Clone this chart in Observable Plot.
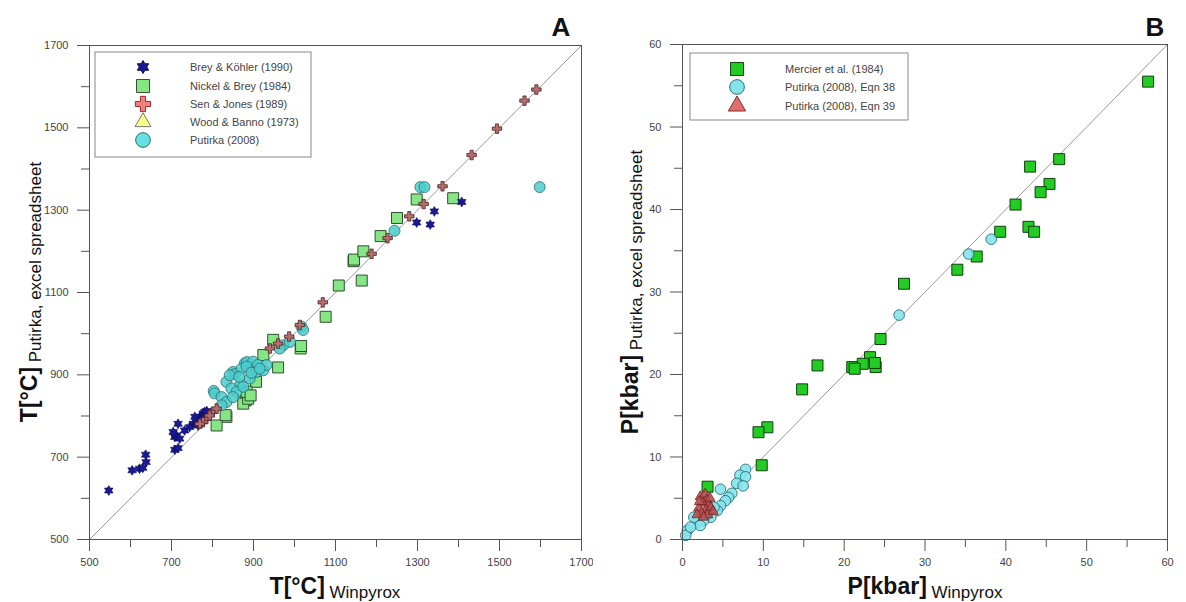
<!DOCTYPE html>
<html>
<head>
<meta charset="utf-8">
<script src="https://cdn.jsdelivr.net/npm/d3@7"></script>
<script src="https://cdn.jsdelivr.net/npm/@observablehq/plot@0.6"></script>
<style>
  html, body { margin: 0; padding: 0; background: #fff; }
  #wrap { position: relative; width: 1186px; height: 602px; overflow: hidden; }
  #wrap > svg { position: absolute; top: 0; }
</style>
</head>
<body>
<div id="wrap"></div>
<script>
// ---------- Panel A data: T[°C] Winpyrox (x) vs Putirka spreadsheet (y) ----------
const breyKohler = [
  [547,619],[604,668],[622,672],[630,674],[638,688],[637,706],[708,718],[716,722],
  [708,749],[712,753],[720,745],[732,765],[716,781],[704,761],[753,781],[761,789],
  [769,798],[777,806],[757,798],[781,810],[786,812],[765,777],[773,790],[744,773],
  [1408,1320],[1341,1297],[1298,1270],[1331,1265]
];
const nickelBrey = [
  [1076,1041],[1108,1117],[1164,1129],[1144,1176],[1145,1180],[1168,1200],[1210,1237],
  [1250,1281],[1298,1326],[1387,1329],[1015,964],[1016,970],[960,918],[924,948],[948,985],
  [906,883],[881,838],[875,830],[887,842],[834,798],[810,777],[883,859],[832,802],[893,850]
];
const senJones = [
  [1590,1593],[1561,1566],[1494,1498],[1432,1434],[1361,1358],[1315,1315],[1280,1285],
  [1227,1232],[1188,1194],[1069,1076],[1013,1021],[987,993],[960,976],[940,964],
  [801,810],[785,793],[777,785],[793,801],[810,818],[769,781]
];
const woodBanno = [];
const putirkaA = [
  [1307,1356],[1317,1356],[1598,1356],[1244,1250],
  [1017,1017],[1021,1009],[973,972],[964,964],[989,980],
  [803,861],[805,855],[834,883],[850,907],[855,902],[879,928],[884,931],[899,932],[911,924],
  [907,907],[891,891],[867,875],[846,867],[822,846],[859,859],[875,871],[924,911],[932,924],
  [834,834],[822,826],[842,899],[871,915],[883,920],[850,846],[865,895],[895,905],[915,915]
];

// ---------- Panel B data: P[kbar] Winpyrox (x) vs Putirka spreadsheet (y) ----------
const mercier = [
  [57.6,55.5],[46.6,46.1],[43.0,45.2],[45.4,43.1],[44.3,42.1],[41.2,40.6],[39.3,37.3],
  [42.8,37.9],[43.5,37.3],[36.4,34.3],[34.0,32.7],[27.4,31.0],[24.5,24.3],[23.2,22.1],
  [22.3,21.3],[23.9,20.9],[23.8,21.4],[21.0,20.9],[21.3,20.7],[16.7,21.1],[14.8,18.2],
  [10.5,13.6],[9.4,13.0],[9.8,9.0],[3.1,6.4]
];
const putirkaEqn38 = [
  [38.2,36.4],[35.4,34.6],[26.8,27.2],
  [7.8,8.5],[7.1,7.8],[7.8,7.6],[6.7,6.8],[7.5,6.5],[4.7,6.1],[6.1,5.6],[5.7,5.1],
  [5.3,4.7],[4.7,4.1],[4.3,3.5],[3.5,2.7],[2.6,2.3],[1.8,2.1],[1.4,2.7],[2.2,1.7],
  [0.6,1.1],[0.4,0.5],[1.0,1.5],[3.1,3.1],[3.9,3.9]
];
const putirkaEqn39 = [
  [2.2,5.2],[2.8,5.5],[3.0,4.8],[2.5,4.4],[3.3,4.2],[2.0,3.8],[2.9,3.6],[3.5,3.9],
  [2.4,3.2],[3.1,3.0],[1.8,3.0],[2.6,2.7],[3.8,3.4],[2.1,4.6],[3.4,5.0]
];

// ---------- Axis ticks ----------
const ticksA = [500,700,900,1100,1300,1500,1700];
const minorA = [600,800,1000,1200,1400,1600];
const ticksB = [0,10,20,30,40,50,60];
const minorB = [5,15,25,35,45,55];

const legendA = ["Brey & Köhler (1990)","Nickel & Brey (1984)","Sen & Jones (1989)","Wood & Banno (1973)","Putirka (2008)"];
const legendB = ["Mercier et al. (1984)","Putirka (2008), Eqn 38","Putirka (2008), Eqn 39"];

// six-pointed star symbol
const hexagram = {
  draw(ctx, size) {
    const R = Math.sqrt(size) * 0.62, r = R / Math.sqrt(3);
    for (let i = 0; i < 12; i++) {
      const a = i * Math.PI / 6 - Math.PI / 2, rad = i % 2 === 0 ? R : r;
      const px = rad * Math.cos(a), py = rad * Math.sin(a);
      if (i === 0) ctx.moveTo(px, py); else ctx.lineTo(px, py);
    }
    ctx.closePath();
  }
};

const FONT = "'Liberation Sans', Arial, Helvetica, sans-serif";
const AX = "#555";
const fmt = d => String(d);

function axes(major, minor) {
  return [
    Plot.axisX(minor, {tickSize: 8, tickFormat: () => "", stroke: AX, label: null}),
    Plot.axisX(major, {tickSize: 12, tickPadding: 7, tickFormat: fmt, stroke: AX, fill: "#444", label: null}),
    Plot.axisY(minor, {tickSize: 8, tickFormat: () => "", stroke: AX, label: null}),
    Plot.axisY(major, {tickSize: 12, tickPadding: 9, tickFormat: fmt, stroke: AX, fill: "#444", label: null}),
    Plot.frame({stroke: AX})
  ];
}

const style = {fontFamily: FONT, fontSize: "11px", background: "white", overflow: "visible"};

const plotA = Plot.plot({
  width: 593, height: 602,
  marginLeft: 89, marginRight: 12, marginTop: 45, marginBottom: 63,
  style,
  x: {domain: [500, 1700]},
  y: {domain: [500, 1700]},
  marks: [
    Plot.line([[500,500],[1700,1700]], {stroke: "#999", strokeWidth: 1}),
    Plot.dot(nickelBrey, {x: d => d[0], y: d => d[1], symbol: "square", r: 6.2, fill: "#86e686", stroke: "#2f4f2f", strokeWidth: 1}),
    Plot.dot(putirkaA, {x: d => d[0], y: d => d[1], symbol: "circle", r: 5.5, fill: "#4ccccc", fillOpacity: 0.85, stroke: "#2c6f70", strokeWidth: 0.8}),
    Plot.dot(woodBanno, {x: d => d[0], y: d => d[1], symbol: "triangle", r: 5, fill: "#ffff88", stroke: "#777"}),
    Plot.dot(breyKohler, {x: d => d[0], y: d => d[1], symbol: hexagram, r: 4.5, fill: "#1a1a90", stroke: "#0a0a5a", strokeWidth: 0.6}),
    Plot.dot(senJones, {x: d => d[0], y: d => d[1], symbol: "cross", r: 4, fill: "#b07070", stroke: "#5a2020", strokeWidth: 0.8}),
    ...axes(ticksA, minorA)
  ]
});

const plotB = Plot.plot({
  width: 593, height: 602,
  marginLeft: 89, marginRight: 19, marginTop: 44, marginBottom: 63,
  style,
  x: {domain: [0, 60]},
  y: {domain: [0, 60]},
  marks: [
    Plot.line([[0,0],[60,60]], {stroke: "#999", strokeWidth: 1}),
    Plot.dot(mercier, {x: d => d[0], y: d => d[1], symbol: "square", r: 6.2, fill: "#22cc22", stroke: "#0f3f0f", strokeWidth: 1}),
    Plot.dot(putirkaEqn38, {x: d => d[0], y: d => d[1], symbol: "circle", r: 5.3, fill: "#84e4ec", fillOpacity: 0.9, stroke: "#2a6f7a", strokeWidth: 0.9}),
    Plot.dot(putirkaEqn39, {x: d => d[0], y: d => d[1], symbol: "triangle", r: 3.8, fill: "#b85050", fillOpacity: 0.9, stroke: "#6a1a1a", strokeWidth: 0.7}),
    ...axes(ticksB, minorB)
  ]
});

const wrap = document.getElementById("wrap");
plotA.style.left = "0px";
plotB.style.left = "593px";
wrap.appendChild(plotA);
wrap.appendChild(plotB);

function xLabel(svg, cx, y, bold, rest) {
  const t = d3.select(svg).append("text")
    .attr("x", cx).attr("y", y).attr("text-anchor", "middle")
    .attr("font-family", FONT).attr("fill", "#111");
  t.append("tspan").attr("font-weight", "bold").attr("font-size", 23).text(bold);
  t.append("tspan").attr("font-size", 17).attr("dy", 4).text(" " + rest);
}
function yLabel(svg, x, cy, bold, rest) {
  const t = d3.select(svg).append("text")
    .attr("transform", `translate(${x},${cy}) rotate(-90)`).attr("text-anchor", "middle")
    .attr("font-family", FONT).attr("fill", "#111");
  t.append("tspan").attr("font-weight", "bold").attr("font-size", 23).text(bold);
  t.append("tspan").attr("font-size", 17).attr("dy", 4).text(" " + rest);
}
function panelLetter(svg, x, y, s) {
  d3.select(svg).append("text").attr("x", x).attr("y", y).attr("text-anchor", "middle")
    .attr("font-family", FONT).attr("font-weight", "bold").attr("font-size", 26).attr("fill", "#111").text(s);
}
function legend(svg, box, sx, tx, rows, items) {
  const g = d3.select(svg).append("g");
  g.append("rect").attr("x", box[0]).attr("y", box[1]).attr("width", box[2] - box[0]).attr("height", box[3] - box[1])
    .attr("fill", "white").attr("stroke", "#888").attr("stroke-width", 1);
  items.forEach((it, i) => {
    const y = rows[i];
    g.append("path").attr("transform", `translate(${sx},${y})`)
      .attr("d", d3.symbol(it.type, it.size)())
      .attr("fill", it.fill).attr("stroke", it.stroke).attr("stroke-width", 1);
    g.append("text").attr("x", tx).attr("y", y).attr("dy", "0.35em").attr("text-anchor", "start")
      .attr("font-family", FONT).attr("font-size", 11).attr("fill", "#444").text(it.label);
  });
}

const svgA = plotA.tagName.toLowerCase() === "svg" ? plotA : plotA.querySelector("svg");
const svgB = plotB.tagName.toLowerCase() === "svg" ? plotB : plotB.querySelector("svg");

xLabel(svgA, 335, 594, "T[°C]", "Winpyrox");
yLabel(svgA, 37, 292, "T[°C]", "Putirka, excel spreadsheet");
panelLetter(svgA, 561, 36, "A");
legend(svgA, [95, 52, 311, 157], 143, 190, [67, 86, 104, 122, 140], [
  {type: hexagram, size: 110, fill: "#1a1a90", stroke: "#0a0a5a", label: legendA[0]},
  {type: d3.symbolSquare, size: 170, fill: "#86e686", stroke: "#2f4f2f", label: legendA[1]},
  {type: d3.symbolCross, size: 130, fill: "#f08080", stroke: "#a02828", label: legendA[2]},
  {type: d3.symbolTriangle, size: 110, fill: "#ffff88", stroke: "#777", label: legendA[3]},
  {type: d3.symbolCircle, size: 170, fill: "#66e0e0", stroke: "#2c6f70", label: legendA[4]}
]);

xLabel(svgB, 332, 594, "P[kbar]", "Winpyrox");
yLabel(svgB, 45, 292, "P[kbar]", "Putirka, excel spreadsheet");
panelLetter(svgB, 562, 36, "B");
legend(svgB, [97, 53, 315, 120], 144, 192, [69, 87, 106], [
  {type: d3.symbolSquare, size: 170, fill: "#22cc22", stroke: "#0f3f0f", label: legendB[0]},
  {type: d3.symbolCircle, size: 170, fill: "#84e4ec", stroke: "#2a6f7a", label: legendB[1]},
  {type: d3.symbolTriangle, size: 130, fill: "#e07070", stroke: "#8a2a2a", label: legendB[2]}
]);
</script>
</body>
</html>
